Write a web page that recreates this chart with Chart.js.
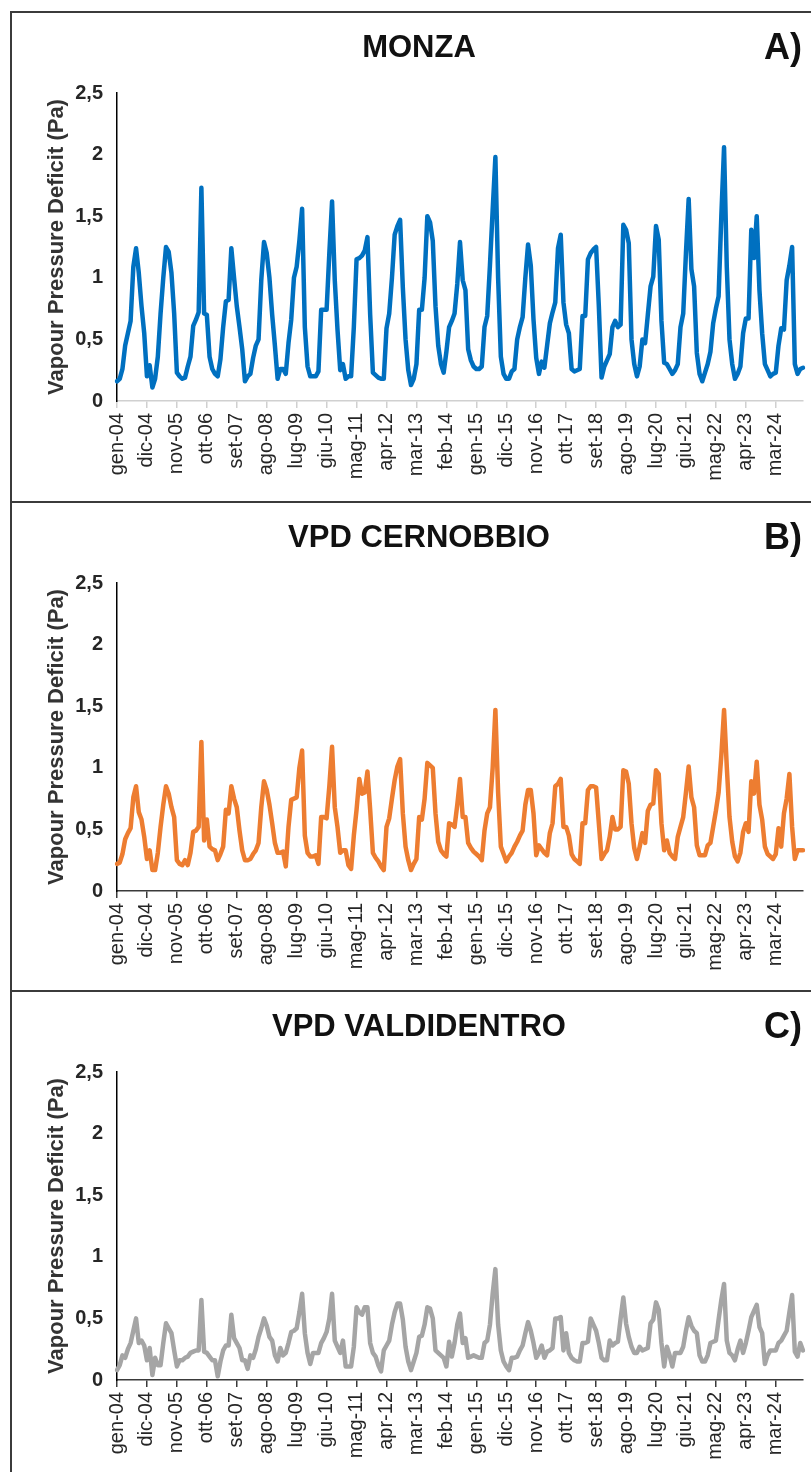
<!DOCTYPE html>
<html lang="it">
<head>
<meta charset="utf-8">
<title>VPD Monza - Cernobbio - Valdidentro</title>
<script src="https://cdn.jsdelivr.net/npm/chart.js@4.4.1/dist/chart.umd.min.js"></script>
<style>
  html, body { margin: 0; padding: 0; background: #fff; overflow: hidden; }
  body { width: 811px; height: 1472px; position: relative; font-family: "Liberation Sans", Arial, sans-serif; }
  .panel {
    position: absolute; left: 10px; width: 830px; height: 488px;
    border-top: 2px solid #3b3b3b; border-left: 2px solid #3b3b3b;
  }
  .panel canvas { position: absolute; left: 0; top: 0; }
  .ttl {
    position: absolute; left: 107px; width: 600px; top: 16px;
    text-align: center; font-weight: bold; font-size: 31px; line-height: 36px; color: #111;
  }
  .tag {
    position: absolute; right: 40px; top: 14px;
    font-weight: bold; font-size: 36px; line-height: 40px; color: #111;
  }
</style>
</head>
<body>

<div class="panel" style="top:11px">
  <canvas id="chartMonza" width="799" height="488"></canvas>
  <div class="ttl">MONZA</div>
  <div class="tag">A)</div>
</div>

<div class="panel" style="top:501px">
  <canvas id="chartCernobbio" width="799" height="488"></canvas>
  <div class="ttl">VPD CERNOBBIO</div>
  <div class="tag">B)</div>
</div>

<div class="panel" style="top:990px">
  <canvas id="chartValdidentro" width="799" height="488"></canvas>
  <div class="ttl">VPD VALDIDENTRO</div>
  <div class="tag">C)</div>
</div>

<script>
// ---------------------------------------------
// VPD mensile 2004-2025 (Pa)
// ---------------------------------------------
const MESI = ['gen','feb','mar','apr','mag','giu','lug','ago','set','ott','nov','dic'];
const ANNO_INIZIO = 2004;
const N_MESI = 253; // gen-04 ... gen-25
const PASSO_ETICHETTE = 11;

const Y_TICKS = [0, 0.5, 1, 1.5, 2, 2.5];
const Y_TITLE = 'Vapour Pressure Deficit (Pa)';

const labels = [];
for (let i = 0; i < N_MESI; i++) {
  const anno = ANNO_INIZIO + Math.floor(i / 12);
  labels.push(MESI[i % 12] + '-' + String(anno).slice(-2));
}

// Monza
const vpdMonza = [
  0.16,0.18,0.26,0.45,0.55,0.65,1.09,1.24,1.04,0.77,0.55,0.20,
  0.29,0.11,0.18,0.36,0.71,1.00,1.25,1.21,1.04,0.71,0.23,0.20,
  0.18,0.19,0.28,0.36,0.61,0.66,0.72,1.73,0.71,0.70,0.36,0.26,
  0.22,0.20,0.34,0.60,0.81,0.82,1.24,1.00,0.77,0.60,0.42,0.16,
  0.20,0.22,0.35,0.45,0.50,0.98,1.29,1.20,1.00,0.70,0.45,0.18,
  0.26,0.26,0.22,0.47,0.66,1.00,1.09,1.30,1.56,0.60,0.28,0.20,
  0.20,0.20,0.24,0.74,0.74,0.74,1.20,1.62,0.98,0.58,0.25,0.30,
  0.18,0.20,0.20,0.60,1.15,1.16,1.18,1.22,1.33,0.70,0.23,0.21,
  0.19,0.18,0.18,0.59,0.71,1.00,1.35,1.42,1.47,0.92,0.50,0.25,
  0.13,0.18,0.30,0.74,0.74,1.00,1.50,1.45,1.30,0.77,0.45,0.30,
  0.23,0.40,0.60,0.65,0.71,0.95,1.29,0.98,0.90,0.42,0.33,0.28,
  0.26,0.26,0.28,0.60,0.69,1.10,1.55,1.98,1.00,0.36,0.22,0.18,
  0.18,0.24,0.26,0.50,0.60,0.68,1.00,1.27,1.10,0.66,0.35,0.22,
  0.32,0.27,0.45,0.63,0.72,0.80,1.24,1.35,0.80,0.62,0.55,0.26,
  0.24,0.25,0.26,0.69,0.69,1.15,1.20,1.23,1.25,0.77,0.19,0.28,
  0.33,0.38,0.60,0.65,0.60,0.62,1.43,1.39,1.28,0.50,0.30,0.20,
  0.28,0.50,0.47,0.70,0.93,1.01,1.42,1.31,0.65,0.31,0.30,0.26,
  0.22,0.25,0.30,0.60,0.71,1.20,1.64,1.07,0.93,0.39,0.22,0.16,
  0.23,0.30,0.40,0.63,0.75,0.85,1.50,2.06,1.09,0.50,0.30,0.18,
  0.22,0.28,0.55,0.67,0.67,1.39,1.16,1.50,0.90,0.55,0.30,0.25,
  0.20,0.22,0.23,0.45,0.59,0.58,0.98,1.10,1.25,0.30,0.22,0.26,
  0.27
];

// Cernobbio
const vpdCernobbio = [
  0.22,0.23,0.30,0.42,0.47,0.51,0.76,0.85,0.64,0.58,0.44,0.26,
  0.33,0.17,0.17,0.31,0.52,0.70,0.85,0.79,0.68,0.60,0.25,0.22,
  0.21,0.25,0.21,0.31,0.48,0.49,0.52,1.21,0.41,0.58,0.36,0.34,
  0.33,0.25,0.30,0.36,0.66,0.63,0.85,0.75,0.68,0.49,0.33,0.25,
  0.25,0.26,0.30,0.33,0.39,0.68,0.89,0.82,0.70,0.55,0.39,0.31,
  0.31,0.32,0.20,0.52,0.74,0.75,0.76,1.00,1.14,0.45,0.31,0.28,
  0.28,0.29,0.22,0.60,0.60,0.59,0.85,1.17,0.68,0.52,0.31,0.33,
  0.33,0.21,0.18,0.45,0.66,0.91,0.79,0.80,0.97,0.66,0.31,0.27,
  0.24,0.20,0.17,0.52,0.59,0.75,0.90,1.01,1.07,0.63,0.36,0.25,
  0.17,0.22,0.26,0.60,0.58,0.75,1.04,1.02,1.00,0.63,0.40,0.33,
  0.30,0.28,0.55,0.54,0.52,0.70,0.91,0.60,0.60,0.39,0.35,0.32,
  0.30,0.28,0.25,0.49,0.63,0.68,1.00,1.47,0.80,0.36,0.30,0.24,
  0.28,0.31,0.36,0.40,0.45,0.49,0.70,0.82,0.82,0.63,0.29,0.37,
  0.34,0.31,0.29,0.47,0.55,0.85,0.87,0.91,0.52,0.52,0.45,0.30,
  0.26,0.24,0.22,0.55,0.55,0.82,0.85,0.85,0.84,0.55,0.26,0.30,
  0.33,0.44,0.60,0.50,0.50,0.52,0.98,0.97,0.87,0.55,0.35,0.26,
  0.36,0.47,0.39,0.65,0.70,0.71,0.98,0.95,0.55,0.33,0.41,0.31,
  0.28,0.26,0.44,0.52,0.60,0.80,1.01,0.76,0.68,0.37,0.29,0.29,
  0.29,0.37,0.39,0.52,0.65,0.80,1.10,1.47,1.01,0.60,0.40,0.28,
  0.24,0.31,0.48,0.55,0.48,0.89,0.79,1.05,0.70,0.58,0.36,0.30,
  0.28,0.26,0.30,0.51,0.36,0.63,0.75,0.95,0.52,0.26,0.33,0.33,
  0.33
];

// Valdidentro
const vpdValdidentro = [
  0.08,0.12,0.20,0.18,0.25,0.30,0.40,0.50,0.30,0.32,0.28,0.16,
  0.26,0.04,0.18,0.12,0.12,0.30,0.46,0.42,0.38,0.24,0.11,0.16,
  0.16,0.18,0.19,0.22,0.23,0.24,0.24,0.65,0.23,0.22,0.19,0.16,
  0.16,0.03,0.15,0.24,0.28,0.28,0.53,0.34,0.30,0.26,0.16,0.16,
  0.09,0.20,0.18,0.25,0.35,0.42,0.50,0.44,0.35,0.32,0.20,0.15,
  0.26,0.20,0.22,0.30,0.39,0.40,0.42,0.55,0.70,0.38,0.22,0.13,
  0.22,0.22,0.22,0.30,0.34,0.39,0.50,0.70,0.32,0.27,0.22,0.32,
  0.11,0.11,0.11,0.27,0.59,0.55,0.53,0.59,0.59,0.30,0.22,0.19,
  0.12,0.07,0.24,0.28,0.32,0.45,0.55,0.62,0.62,0.49,0.27,0.15,
  0.08,0.15,0.22,0.35,0.36,0.45,0.59,0.58,0.50,0.24,0.22,0.20,
  0.18,0.11,0.31,0.19,0.30,0.45,0.54,0.30,0.34,0.18,0.19,0.20,
  0.19,0.18,0.18,0.30,0.32,0.45,0.70,0.90,0.45,0.24,0.15,0.11,
  0.08,0.18,0.18,0.19,0.24,0.28,0.38,0.47,0.40,0.30,0.18,0.22,
  0.28,0.18,0.23,0.24,0.26,0.50,0.50,0.51,0.24,0.38,0.22,0.18,
  0.16,0.15,0.15,0.30,0.30,0.31,0.50,0.45,0.40,0.30,0.18,0.16,
  0.16,0.32,0.28,0.30,0.31,0.50,0.67,0.46,0.35,0.27,0.22,0.22,
  0.27,0.24,0.25,0.26,0.46,0.49,0.63,0.57,0.30,0.11,0.27,0.20,
  0.11,0.22,0.22,0.22,0.27,0.40,0.51,0.44,0.40,0.38,0.20,0.15,
  0.15,0.20,0.30,0.31,0.32,0.49,0.65,0.78,0.32,0.22,0.20,0.16,
  0.25,0.32,0.22,0.30,0.40,0.51,0.56,0.61,0.43,0.38,0.13,0.20,
  0.24,0.24,0.24,0.30,0.32,0.36,0.40,0.55,0.69,0.23,0.19,0.30,
  0.24
];

const FONT = '"Liberation Sans", Arial, sans-serif';

function creaGrafico(canvasId, valori, colore, coloreAsseX) {
  return new Chart(document.getElementById(canvasId), {
    type: 'line',
    data: {
      labels: labels,
      datasets: [{
        data: valori,
        borderColor: colore,
        borderWidth: 4.5,
        borderJoinStyle: 'round',
        borderCapStyle: 'round',
        pointRadius: 0,
        tension: 0,
        fill: false
      }]
    },
    options: {
      responsive: false,
      animation: false,
      devicePixelRatio: 1,
      layout: { padding: { top: 80, right: 8, left: 0, bottom: 0 } },
      plugins: { legend: { display: false }, tooltip: { enabled: false } },
      scales: {
        x: {
          type: 'category',
          offset: false,
          afterFit: s => { s.height = 100; },
          grid: {
            display: true, drawOnChartArea: false, drawTicks: true,
            tickLength: 7, color: coloreAsseX, lineWidth: 1.5
          },
          border: { display: true, color: coloreAsseX, width: 1.5 },
          ticks: {
            autoSkip: false, minRotation: 90, maxRotation: 90, padding: 5,
            color: '#262626', font: { family: FONT, size: 20 },
            callback: (v, i) => (i % PASSO_ETICHETTE === 0 ? labels[i] : null)
          }
        },
        y: {
          min: Y_TICKS[0],
          max: Y_TICKS[Y_TICKS.length - 1],
          afterFit: s => { s.width = 105; },
          afterBuildTicks: s => { s.ticks = Y_TICKS.map(v => ({ value: v })); },
          grid: { display: false, drawTicks: false },
          border: { display: true, color: '#000', width: 1.5 },
          ticks: {
            padding: 14, color: '#262626',
            font: { family: FONT, size: 20, weight: 'bold' },
            callback: v => String(v).replace('.', ',')
          },
          title: {
            display: true, text: Y_TITLE, color: '#333',
            font: { family: FONT, size: 22, weight: 'bold' },
            padding: { top: 32, bottom: 0 }
          }
        }
      }
    }
  });
}

creaGrafico('chartMonza', vpdMonza, '#0070C0', '#d0d0d0');
creaGrafico('chartCernobbio', vpdCernobbio, '#ED7D31', '#3a3a3a');
creaGrafico('chartValdidentro', vpdValdidentro, '#A5A5A5', '#3a3a3a');
</script>
</body>
</html>
